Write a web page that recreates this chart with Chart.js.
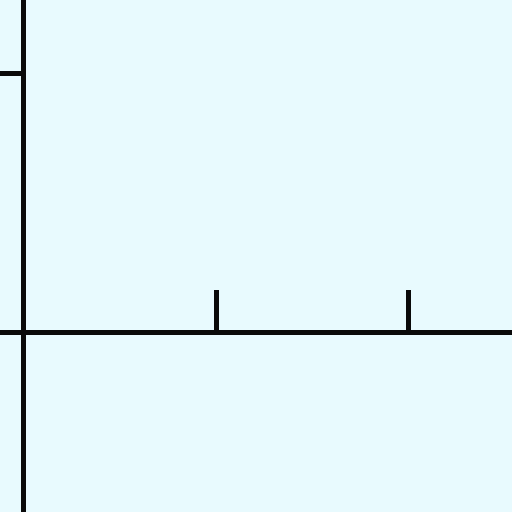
<!DOCTYPE html>
<html>
<head>
<meta charset="utf-8">
<script src="https://cdn.jsdelivr.net/npm/chart.js@4"></script>
<style>
  html, body { margin: 0; padding: 0; background: #E8FAFE; }
  canvas { display: block; }
</style>
</head>
<body>
<canvas id="c" width="512" height="512"></canvas>
<script>
// Axis tick values (no tick labels shown in the reference)
const xTickValues = [1, 2];
const yTickValues = [1];
// Visible data window
const xRange = [-0.1192, 2.5337];
const yRange = [-0.695, 1.2819];
// Axes cross at origin
const origin = [0, 0];
const seriesData = [];

new Chart(document.getElementById('c'), {
  type: 'scatter',
  data: { datasets: [{ data: seriesData }] },
  options: {
    responsive: false,
    animation: false,
    events: [],
    layout: { padding: 0 },
    plugins: { legend: { display: false }, tooltip: { enabled: false }, title: { display: false } },
    scales: {
      x: {
        type: 'linear',
        min: xRange[0], max: xRange[1],
        position: { y: origin[1] },
        afterBuildTicks: s => { s.ticks = xTickValues.map(v => ({ value: v })); },
        ticks: { display: false },
        grid: { drawOnChartArea: false, drawTicks: true, tickLength: -45, tickWidth: 5, tickColor: '#0a0a0a' },
        border: { display: true, width: 5, color: '#0a0a0a' }
      },
      y: {
        type: 'linear',
        min: yRange[0], max: yRange[1],
        position: { x: origin[0] },
        afterBuildTicks: s => { s.ticks = yTickValues.map(v => ({ value: v })); },
        ticks: { display: false },
        grid: { drawOnChartArea: false, drawTicks: true, tickLength: 45, tickWidth: 5, tickColor: '#0a0a0a' },
        border: { display: true, width: 5, color: '#0a0a0a' }
      }
    }
  }
});
</script>
</body>
</html>
